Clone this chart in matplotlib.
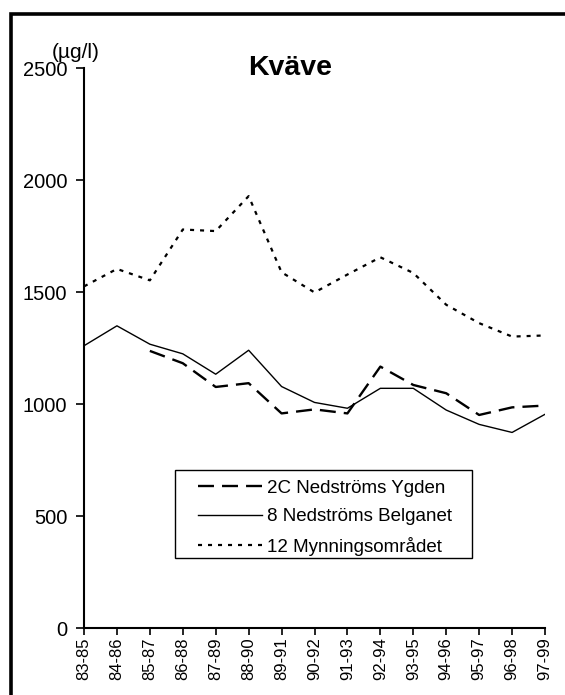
import numpy as np
import matplotlib
matplotlib.use("Agg")
import matplotlib.pyplot as plt
from matplotlib.patches import Rectangle

plt.rcParams['font.family'] = ['Liberation Sans', 'DejaVu Sans']
plt.rcParams['lines.scale_dashes'] = False

# periods (three-year means)
periods = ["83-85", "84-86", "85-87", "86-88", "87-89", "88-90", "89-91", "90-92",
           "91-93", "92-94", "93-95", "94-96", "95-97", "96-98", "97-99"]

# total nitrogen, µg/l
ygden = [np.nan, np.nan, 1237, 1182, 1076, 1093, 958, 976, 958, 1167, 1085, 1048, 951, 985, 993]
belganet = [1260, 1349, 1267, 1224, 1133, 1240, 1078, 1007, 981, 1070, 1070, 973, 909, 873, 954]
mynning = [1525, 1603, 1552, 1779, 1772, 1928, 1588, 1498, 1578, 1655, 1585, 1443, 1361, 1301, 1306]

W, H = 565, 695
fig = plt.figure(figsize=(W / 100, H / 100), dpi=100)
ax = fig.add_axes([84 / W, 1 - 628 / H, 461 / W, 560 / H])

x = np.arange(len(periods))
ax.plot(x, ygden, color='black', lw=1.7, dashes=[11.5, 5.8], label="2C Nedströms Ygden")
ax.plot(x, belganet, color='black', lw=1.0, label="8 Nedströms Belganet")
ax.plot(x, mynning, color='black', lw=1.6, dashes=[2.9, 4.3], label="12 Mynningsområdet")

ax.set_xlim(0, len(periods) - 1)
ax.set_ylim(0, 2500)
ax.set_yticks(np.arange(0, 2501, 500))
ax.set_xticks(x)
ax.set_xticklabels(periods, rotation=90, fontsize=12)
ax.tick_params(axis='y', labelsize=14.5, length=6, width=1.2, pad=6, color='black')
ax.tick_params(axis='x', length=5, width=1.2, pad=1.5, color='black')
for s in ['top', 'right']:
    ax.spines[s].set_visible(False)
for s in ['left', 'bottom']:
    ax.spines[s].set_linewidth(1.5)

fig.text(290 / W, 1 - 75 / H, "Kväve", fontsize=20.5, fontweight='bold', ha='center', va='baseline')
fig.text(76 / W, 1 - 52 / H, "(µg/l)", fontsize=15, ha='center', va='center')

# legend entries without frame, box drawn separately
leg = ax.legend(loc='upper left', bbox_to_anchor=(190 / W, 1 - 471 / H), bbox_transform=fig.transFigure,
                fontsize=13.5, handlelength=3.4, handletextpad=0.25, labelspacing=0.62,
                borderpad=0.45, borderaxespad=0, frameon=False)
fig.patches.append(Rectangle((175 / W, 1 - 558 / H), 297 / W, 88 / H, transform=fig.transFigure,
                             fill=False, lw=1.0, edgecolor='black'))

# outer frame
fig.patches.append(Rectangle((10.5 / W, -0.1), 1.2, 1 - 13.5 / H + 0.1, transform=fig.transFigure,
                             fill=False, lw=2.6, edgecolor='black'))

fig.savefig("out.png", dpi=100)
